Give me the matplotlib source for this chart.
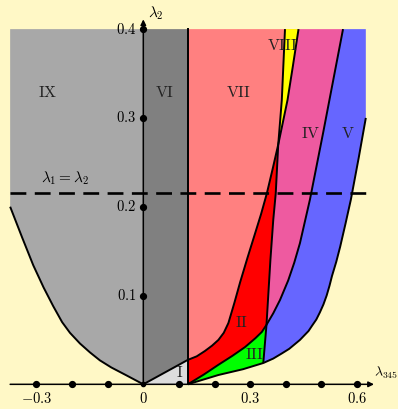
import numpy as np
import matplotlib
matplotlib.use("Agg")
import matplotlib.pyplot as plt

plt.rcParams['mathtext.fontset'] = 'cm'
plt.rcParams['font.family'] = 'serif'

# boundary curves of the phase regions (lambda_345, lambda_2)
ix_lam = [-0.374, -0.34, -0.309, -0.28, -0.253, -0.228, -0.206, -0.178, -0.15, -0.122, -0.09, -0.047, 0.0]
ix_mu = [0.200, 0.165, 0.134, 0.109, 0.088, 0.070, 0.058, 0.046, 0.036, 0.027, 0.019, 0.010, 0.0]

a_lam = [0.0, 0.125, 0.15, 0.173, 0.193, 0.211, 0.226, 0.239, 0.256, 0.272, 0.293, 0.314,
         0.331, 0.347, 0.363, 0.379, 0.392, 0.405, 0.42, 0.436]
a_mu = [0.0, 0.0275, 0.0315, 0.0375, 0.0435, 0.050, 0.058, 0.069, 0.092, 0.115, 0.143, 0.170,
        0.192, 0.215, 0.242, 0.270, 0.295, 0.320, 0.358, 0.400]

l1_lam = [0.337, 0.346, 0.357, 0.365, 0.372, 0.379, 0.389, 0.398]
l1_mu = [0.024, 0.067, 0.140, 0.185, 0.215, 0.270, 0.320, 0.400]

db_lam = [0.125, 0.17, 0.211, 0.25, 0.286, 0.315, 0.333, 0.346, 0.365, 0.384, 0.407, 0.424,
          0.44, 0.468, 0.505, 0.561]
db_mu = [0.0, 0.011, 0.022, 0.032, 0.042, 0.052, 0.059, 0.067, 0.080, 0.095, 0.117, 0.137,
         0.159, 0.208, 0.283, 0.400]

ef_lam = [0.125, 0.211, 0.28, 0.337, 0.365, 0.39, 0.41, 0.425, 0.44, 0.452, 0.464, 0.474,
          0.486, 0.496, 0.506, 0.515, 0.523, 0.530, 0.542, 0.553, 0.568, 0.583, 0.605, 0.625]
ef_mu = [0.0, 0.0105, 0.017, 0.024, 0.029, 0.035, 0.040, 0.045, 0.050, 0.055, 0.060, 0.066,
         0.073, 0.081, 0.090, 0.100, 0.111, 0.122, 0.138, 0.155, 0.181, 0.208, 0.255, 0.300]

lam_edge = 0.125
lam_left, lam_right, mu_top = -0.374, 0.625, 0.4
mu_diag = 0.215

region_labels = ['IX', 'VI', 'VII', 'VIII', 'IV', 'V', 'II', 'III', 'I']
label_lam = [-0.268, 0.061, 0.267, 0.39, 0.471, 0.575, 0.275, 0.313, 0.103]
label_mu = [0.329, 0.329, 0.329, 0.381, 0.283, 0.283, 0.07, 0.034, 0.013]

xticks = [-0.3, -0.2, -0.1, 0.1, 0.2, 0.3, 0.4, 0.5, 0.6]
xtick_labels = {-0.3: '-0.3', 0.0: '0', 0.3: '0.3', 0.6: '0.6'}
yticks = [0.1, 0.2, 0.3, 0.4]

bg = '#fff8c6'
fig = plt.figure(figsize=(3.98, 4.09), dpi=100, facecolor=bg)
ax = fig.add_axes([0, 0, 1, 1])
ax.set_facecolor(bg)
ax.set_xlim(-0.4025, 0.7154)
ax.set_ylim(-0.0278, 0.4328)
ax.axis('off')

a_lam, a_mu = np.array(a_lam), np.array(a_mu)
l1_lam, l1_mu = np.array(l1_lam), np.array(l1_mu)
db_lam, db_mu = np.array(db_lam), np.array(db_mu)
ef_lam, ef_mu = np.array(ef_lam), np.array(ef_mu)

ia = list(a_mu).index(0.270)      # crossing of A and L1
il = list(l1_mu).index(0.270)
ij = list(db_mu).index(0.067)     # where D meets L1
ie = list(ef_mu).index(0.024)     # where E meets L1

def poly(xs, ys, color):
    ax.fill(np.concatenate(xs), np.concatenate(ys), color=color, lw=0, zorder=1)

# IX, VI, I
poly([ix_lam, [0, lam_left]], [ix_mu, [mu_top, mu_top]], '#a8a8a8')
poly([[0, lam_edge, lam_edge, 0]], [[0, a_mu[1], mu_top, mu_top]], '#808080')
poly([[0, lam_edge, lam_edge]], [[0, 0, a_mu[1]]], '#dcdcdc')
# VII
poly([[lam_edge], a_lam[1:]], [[mu_top], a_mu[1:]], '#ff8080')
# II
poly([[lam_edge], a_lam[1:ia + 1], l1_lam[il:0:-1], db_lam[ij::-1]],
     [[0], a_mu[1:ia + 1], l1_mu[il:0:-1], db_mu[ij::-1]], '#ff0000')
# VIII
poly([l1_lam[il:], a_lam[:ia - 1:-1]], [l1_mu[il:], a_mu[:ia - 1:-1]], '#ffff00')
# IV
poly([a_lam[ia:], db_lam[:ij - 1:-1], l1_lam[1:il + 1]],
     [a_mu[ia:], db_mu[:ij - 1:-1], l1_mu[1:il + 1]], '#ee5aa0')
# V
poly([db_lam[ij:], [lam_right], ef_lam[:ie - 1:-1], l1_lam[:2]],
     [db_mu[ij:], [mu_top], ef_mu[:ie - 1:-1], l1_mu[:2]], '#6666ff')
# III
poly([db_lam[:ij + 1], l1_lam[1::-1], ef_lam[ie::-1]],
     [db_mu[:ij + 1], l1_mu[1::-1], ef_mu[ie::-1]], '#00ff00')

lw = 1.4
for xs, ys in [(ix_lam, ix_mu), (a_lam, a_mu), (l1_lam, l1_mu),
               (db_lam, db_mu), (ef_lam, ef_mu)]:
    ax.plot(xs, ys, color='black', lw=lw, zorder=3, solid_capstyle='butt',
            solid_joinstyle='round')
ax.plot([lam_edge, lam_edge], [0, mu_top], color='black', lw=lw, zorder=3)

# lambda_1 = lambda_2
ax.plot([lam_left, lam_right], [mu_diag, mu_diag], color='black', lw=1.9,
        dashes=(6, 3.2), zorder=4)
ax.text(-0.22, 0.232, r'$\lambda_1=\lambda_2$', fontsize=11, ha='center', va='center', zorder=5)

# axes with arrows
ax.annotate('', xy=(0.648, 0), xytext=(lam_left, 0),
            arrowprops=dict(arrowstyle='-|>', color='black', lw=1.1, mutation_scale=8,
                            shrinkA=0, shrinkB=0), zorder=5)
ax.annotate('', xy=(0, 0.411), xytext=(0, 0),
            arrowprops=dict(arrowstyle='-|>', color='black', lw=1.1, mutation_scale=8,
                            shrinkA=0, shrinkB=0), zorder=5)
ax.plot(xticks, [0] * len(xticks), 'o', color='black', ms=4.2, zorder=6)
ax.plot([0] * len(yticks), yticks, 'o', color='black', ms=4.2, zorder=6)
ax.plot([0], [0], 'o', color='black', ms=3, zorder=6)

for x, s in xtick_labels.items():
    ax.text(x, -0.0155, '$' + s + '$', fontsize=10.5, ha='center', va='center', zorder=6)
for y in yticks:
    ax.text(-0.02, y, '$%.1f$' % y, fontsize=10.5, ha='right', va='center', zorder=6)

ax.text(0.013, 0.418, r'$\lambda_2$', fontsize=11, ha='left', va='center', zorder=6)
ax.text(0.647, 0.013, r'$\lambda_{345}$', fontsize=10, ha='left', va='center', zorder=6)

for s, x, y in zip(region_labels, label_lam, label_mu):
    ax.text(x, y, r'$\mathrm{%s}$' % s, fontsize=11.5, ha='center', va='center',
            color='#222222', zorder=5)

fig.savefig('out.png', dpi=100, facecolor=bg)
